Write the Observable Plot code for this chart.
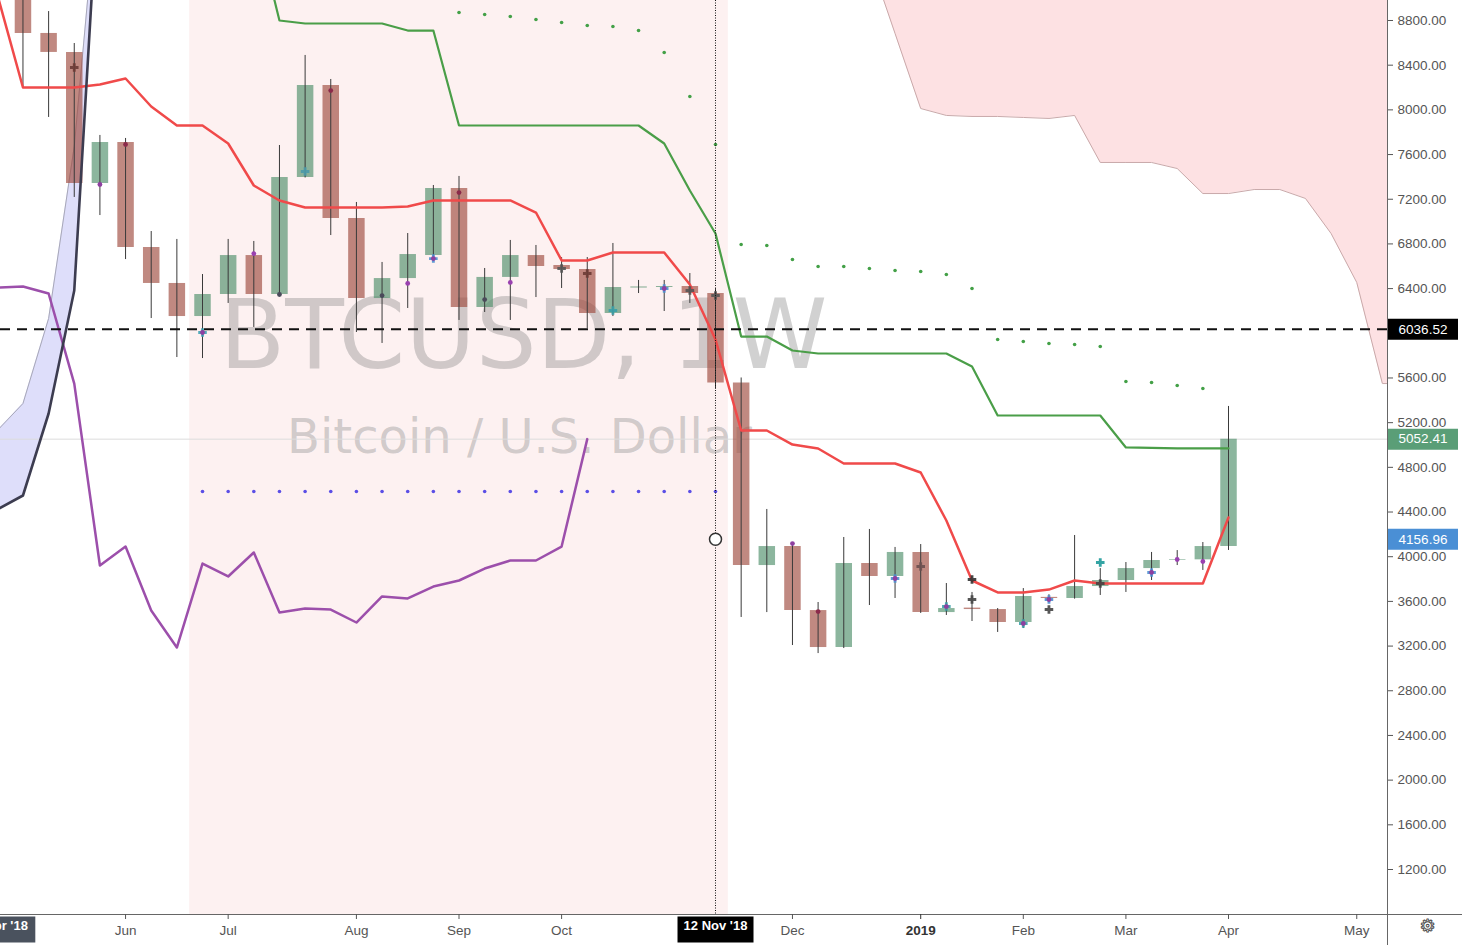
<!DOCTYPE html>
<html><head><meta charset="utf-8">
<script src="https://cdn.jsdelivr.net/npm/d3@7"></script>
<script src="https://cdn.jsdelivr.net/npm/@observablehq/plot@0.6"></script>
<style>html,body{margin:0;padding:0;background:#fff;overflow:hidden}</style>
</head><body><div id="chart"></div>
<script>
// ---- weekly bar dates (bar -1 .. bar 54) ----
const allWeeks = ["2018-04-30","2018-05-07","2018-05-14","2018-05-21","2018-05-28","2018-06-04","2018-06-11","2018-06-18","2018-06-25","2018-07-02","2018-07-09","2018-07-16","2018-07-23","2018-07-30","2018-08-06","2018-08-13","2018-08-20","2018-08-27","2018-09-03","2018-09-10","2018-09-17","2018-09-24","2018-10-01","2018-10-08","2018-10-15","2018-10-22","2018-10-29","2018-11-05","2018-11-12","2018-11-19","2018-11-26","2018-12-03","2018-12-10","2018-12-17","2018-12-24","2018-12-31","2019-01-07","2019-01-14","2019-01-21","2019-01-28","2019-02-04","2019-02-11","2019-02-18","2019-02-25","2019-03-04","2019-03-11","2019-03-18","2019-03-25","2019-04-01","2019-04-08","2019-04-15","2019-04-22","2019-04-29","2019-05-06","2019-05-13","2019-05-20"];

// ---- candles, bars 0..47 ----
const open  = [9250,8684,8514,7341,7708,6768,6446,6150,6347,6696,6347,7395,8218,7028,6311,6490,6696,7296,6231,6500,6696,6607,6571,6177,6405,6410,6419,6356,5555,3921,4091,3518,3187,3939,3823,4038,3500,3540,3527,3411,3636,3626,3733,3787,3894,3966,3972,4091];
const high  = [9400,8880,8594,7771,7744,6911,6840,6526,6840,6822,7681,8487,8272,7171,6634,6893,7323,7404,6580,6831,6786,6678,6678,6804,6473,6473,6535,6400,5600,4423,4127,3590,4172,4244,4083,4109,3760,3680,3536,3715,3660,4190,3894,3948,4038,4055,4127,5345];
const low   = [8200,7932,7216,7054,6660,6132,5783,5774,6267,6052,6338,7390,6875,6007,5909,6222,6670,6115,6186,6115,6320,6401,6043,6150,6356,6195,6267,5500,3456,3500,3205,3133,3178,3563,3626,3492,3474,3420,3322,3357,3590,3620,3653,3680,3787,3921,3877,4056];
const close = [8684,8514,7341,7708,6768,6446,6150,6347,6696,6347,7395,8218,7028,6311,6490,6705,7296,6231,6500,6696,6598,6571,6177,6410,6415,6419,6356,5555,3921,4091,3518,3187,3939,3823,4038,3500,3536,3527,3411,3644,3626,3733,3787,3894,3966,3972,4091,5052.41];

// ---- indicator lines ----
const redLineStart = -1;
const redLine = [9033,8200,8200,8200,8227,8281,8030,7860,7860,7699,7323,7189,7126,7126,7126,7126,7135,7189,7189,7189,7189,7081,6652,6652,6723,6723,6723,6437,5944,5130,5130,5004,4969,4834,4834,4834,4754,4324,3787,3680,3680,3706,3787,3760,3760,3760,3760,3760,4351];
const greenLineStart = 9;
const greenLine = [9730,8800,8773,8773,8773,8773,8710,8710,7860,7860,7860,7860,7860,7860,7860,7860,7699,7278,6893,5971,5971,5846,5819,5819,5819,5819,5819,5819,5703,5264,5264,5264,5264,5264,4978,4974,4969,4969,4969];
const laggingStart = -1;
const laggingLine = [6410,6419,6356,5550,3921,4091,3518,3187,3939,3823,4038,3500,3536,3527,3411,3644,3626,3733,3787,3894,3966,3966,4091,5052.41];
const leftCloudStart = -1;
const leftCloudDark = [4423,4548,5282,6383,10259];
const leftCloudThin = [5130,5371,6132,7672,10196];
const pinkCloudStart = 33;
const pinkCloudLower = [9355,8684,8012,7950,7941,7941,7932,7923,7950,7529,7529,7529,7475,7251,7251,7287,7287,7207,6893,6455,5550,5550];
const sarStart = 17;
const sarDots = [8872,8854,8836,8809,8782,8755,8746,8710,8514,8120,7690,6795,6786,6660,6598,6598,6580,6562,6553,6526,6401,5944,5926,5908,5899,5882,5568,5559,5533,5506];
const blueDotsStart = 7;
const blueDots = [4584,4584,4584,4584,4584,4584,4584,4584,4584,4584,4584,4584,4584,4584,4584,4584,4584,4584,4584,4584,4584];

// ---- markers on candles ----
const crossBars   = [2,7,11,16,21,22,23,25,26,27,34,35,36,37,37,39,40,40,42,42,44];
const crossPrices = [8379,6007,7448,6669,6580,6535,6204,6401,6383,6338,3805,3912,3554,3796,3617,3402,3617,3527,3948,3760,3859];
const crossColors = ["#6b3b35","#3fa3b5","#4a9aaa","#4d8fd0","#555555","#6b3b35","#3aa0a8","#4d8fd0","#555555","#555555","#4d8fd0","#6b5050","#3aa0a8","#333333","#444444","#3aa0a8","#4d8fd0","#444444","#1e9a9a","#444444","#4d8fd0"];
const dotBars   = [3,4,7,9,10,12,14,15,16,17,18,19,25,30,31,34,36,39,40,44,45,46];
const dotPrices = [7332,7690,6007,6714,6347,8173,6338,6446,6669,7260,6302,6455,6401,4118,3509,3805,3554,3402,3617,3859,3975,3957];
const dotColors = ["#8e3fa0","#8b2a4a","#8e3fa0","#9a40b0","#4a4a5a","#8b2a4a","#4a4a5a","#9a40b0","#8e3fa0","#8b2a4a","#4a4a5a","#9a40b0","#8e3fa0","#8e3fa0","#8b2a4a","#8e3fa0","#8e3fa0","#8e3fa0","#8e3fa0","#8e3fa0","#9a40b0","#9a40b0"];

// ---- levels, ranges, labels ----
const rangeStart = "2018-06-25", rangeEnd = "2018-11-12";
const crosshairDate = "2018-11-12", crosshairPrice = 4156.96;
const dashedLevel = 6036.52, lastPrice = 5052.41;
const priceBoxes = [{value:6036.52,color:"#000000"},{value:5052.41,color:"#5a9e77"},{value:4156.96,color:"#4a8fd5"}];
const dateBoxes = [{date:"2018-04-30",text:"30 Apr '18",color:"#4a525e"},{date:"2018-11-12",text:"12 Nov '18",color:"#000000"}];
// 6000.00 sits behind the 6036.52 label box, so it is not listed
const yTicks = [1200,1600,2000,2400,2800,3200,3600,4000,4400,4800,5200,5600,6400,6800,7200,7600,8000,8400,8800];
const xTickDates  = ["2018-06-04","2018-07-02","2018-08-06","2018-09-03","2018-10-01","2018-12-03","2019-02-04","2019-03-04","2019-04-01","2019-05-06"];
const xTickLabels = ["Jun","Jul","Aug","Sep","Oct","Dec","Feb","Mar","Apr","May"];
const yearTickDate = "2019-01-07", yearTickLabel = "2019";
const watermark1 = "BTCUSD, 1W", watermark2 = "Bitcoin / U.S. Dollar";

// ---- build tables ----
const toDate = s => new Date(s + "T00:00:00Z");
const barDate = b => toDate(allWeeks[b + 1]);
const series = (start, vals) => vals.map((v, i) => ({date: barDate(start + i), value: v}));
const candles = close.map((c, i) => ({date: barDate(i), open: open[i], high: high[i], low: low[i], close: c}));
const leftCloud = leftCloudDark.map((v, i) => ({date: barDate(leftCloudStart + i), dark: v, thin: leftCloudThin[i]}));
const pinkCloud = series(pinkCloudStart, pinkCloudLower);
const crosses = crossBars.map((b, i) => ({date: barDate(b), price: crossPrices[i], color: crossColors[i]}));
const dots = dotBars.map((b, i) => ({date: barDate(b), price: dotPrices[i], color: dotColors[i]}));
const xTicks = xTickDates.map(toDate);
const xLabelMap = new Map(xTicks.map((d, i) => [+d, xTickLabels[i]]));

const yDomain = [797.2, 8979];
const xDomain = [new Date("2018-04-30T20:53:00Z"), new Date("2019-05-14T09:22:00Z")];
const halfWeek = 3.5 * 864e5;
// axis lines continue into the margins (right price scale / bottom time scale)
const xAxisEnd = new Date(+xDomain[1] + 20.5 * 864e5);
const yAxisEnd = yDomain[0] - 280;

function boxSymbol(w, h) {
  return {draw(ctx) { ctx.moveTo(-w/2, -h/2); ctx.lineTo(w/2, -h/2); ctx.lineTo(w/2, h/2); ctx.lineTo(-w/2, h/2); ctx.closePath(); }};
}
const up = d => d.close >= d.open;

const plot = Plot.plot({
  width: 1462, height: 945,
  marginLeft: 0, marginRight: 75, marginTop: 0, marginBottom: 31,
  style: {background: "#fff", fontFamily: "'Liberation Sans', Arial, sans-serif", overflow: "visible"},
  x: {type: "utc", domain: xDomain, axis: null},
  y: {type: "linear", domain: yDomain, axis: null},
  marks: [
    // date range shading
    Plot.rect([{a: toDate(rangeStart), b: toDate(rangeEnd)}], {x1: d => new Date(+d.a - halfWeek), x2: d => new Date(+d.b + halfWeek), fill: "#fdf1f1"}),
    // bearish cloud (right)
    Plot.areaY(pinkCloud, {x: "date", y1: "value", y2: yDomain[1], fill: "#fde1e3", clip: true}),
    Plot.line(pinkCloud, {x: "date", y: "value", stroke: "#c9a9aa", strokeWidth: 1, clip: true}),
    // bullish cloud (left)
    Plot.areaY(leftCloud, {x: "date", y1: "dark", y2: "thin", fill: "#dedefa", clip: true}),
    Plot.line(leftCloud, {x: "date", y: "thin", stroke: "#a8a8b8", strokeWidth: 1, clip: true}),
    // watermark
    Plot.text([watermark1], {frameAnchor: "top-left", dx: 523, dy: 337, textAnchor: "middle", lineAnchor: "middle", fontSize: 96, fontFamily: "DejaVu Sans", fill: "#8c8c8c", fillOpacity: 0.4}),
    Plot.text([watermark2], {frameAnchor: "top-left", dx: 519, dy: 437, textAnchor: "middle", lineAnchor: "middle", fontSize: 48, fontFamily: "DejaVu Sans", fill: "#8c8c8c", fillOpacity: 0.4}),
    // last price line
    Plot.ruleY([lastPrice], {stroke: "#dcdcdc", strokeWidth: 1}),
    // dots
    Plot.dot(series(blueDotsStart, blueDots), {x: "date", y: "value", r: 1.8, fill: "#5b4ee6", clip: true}),
    Plot.dot(series(sarStart, sarDots), {x: "date", y: "value", r: 1.8, fill: "#43a047", clip: true}),
    // candles
    Plot.ruleX(candles, {x: "date", y1: "open", y2: "close", stroke: d => up(d) ? "#4f8f6a" : "#9e4a3e", strokeOpacity: 0.65, strokeWidth: 16.5, clip: true}),
    Plot.ruleX(candles, {x: "date", y1: "low", y2: "high", stroke: "#3a3a3a", strokeWidth: 1, clip: true}),
    // indicator lines
    Plot.line(series(redLineStart, redLine), {x: "date", y: "value", stroke: "#f04a4a", strokeWidth: 2.5, clip: true}),
    Plot.line(series(greenLineStart, greenLine), {x: "date", y: "value", stroke: "#4a9e48", strokeWidth: 2.2, clip: true}),
    Plot.line(series(laggingStart, laggingLine), {x: "date", y: "value", stroke: "#9c4fab", strokeWidth: 2.5, clip: true}),
    Plot.line(leftCloud, {x: "date", y: "dark", stroke: "#3c3c50", strokeWidth: 2.6, clip: true}),
    // markers
    Plot.dot(crosses, {x: "date", y: "price", symbol: "cross", r: 3.6, fill: "color", fillOpacity: 0.9, clip: true}),
    Plot.dot(dots, {x: "date", y: "price", r: 2.4, fill: "color", clip: true}),
    // dashed level
    Plot.ruleY([dashedLevel], {stroke: "#111", strokeWidth: 2, strokeDasharray: "10,7"}),
    // crosshair
    Plot.ruleX([toDate(crosshairDate)], {stroke: "#111", strokeWidth: 1, strokeDasharray: "1,1.5"}),
    Plot.dot([{date: toDate(crosshairDate), price: crosshairPrice}], {x: "date", y: "price", r: 6, fill: "#fff", stroke: "#333", strokeWidth: 1.5}),
    // frame lines
    Plot.frame({anchor: "right", stroke: "#666"}),
    Plot.frame({anchor: "bottom", stroke: "#666"}),
    Plot.ruleX([xDomain[1]], {y1: yDomain[0], y2: yAxisEnd, stroke: "#666"}),
    Plot.ruleY([yDomain[0]], {x1: xDomain[1], x2: xAxisEnd, stroke: "#666"}),
    // axes
    Plot.axisY(yTicks, {anchor: "right", tickFormat: d => d.toFixed(2), tickSize: 5, tickPadding: 5, fontSize: 13.5, color: "#555"}),
    Plot.axisX(xTicks, {anchor: "bottom", tickFormat: d => xLabelMap.get(+d), tickSize: 5, tickPadding: 6, fontSize: 13.5, color: "#555"}),
    Plot.axisX([toDate(yearTickDate)], {anchor: "bottom", tickFormat: () => yearTickLabel, tickSize: 5, tickPadding: 6, fontSize: 13.5, fontWeight: "bold", color: "#333"}),
    // axis label boxes
    Plot.dot(priceBoxes, {y: "value", frameAnchor: "right", dx: 35.5, symbol: boxSymbol(70, 21), fill: "color"}),
    Plot.text(priceBoxes, {y: "value", frameAnchor: "right", dx: 35.5, text: d => d.value.toFixed(2), textAnchor: "middle", fill: "#fff", fontSize: 13.5}),
    Plot.dot(dateBoxes, {x: d => toDate(d.date), frameAnchor: "bottom", dy: 15, symbol: boxSymbol(76, 26), fill: "color"}),
    Plot.text(dateBoxes, {x: d => toDate(d.date), frameAnchor: "bottom", dy: 15, text: "text", textAnchor: "middle", fill: "#fff", fontSize: 13, fontWeight: "bold"}),
    // settings gear
    Plot.text(["\u2699"], {frameAnchor: "bottom-right", dx: 40, dy: 17, textAnchor: "middle", fontSize: 18, fill: "none", stroke: "#444", strokeWidth: 0.9, fontFamily: "DejaVu Sans"})
  ]
});
document.getElementById("chart").appendChild(plot);
</script>
</body></html>
